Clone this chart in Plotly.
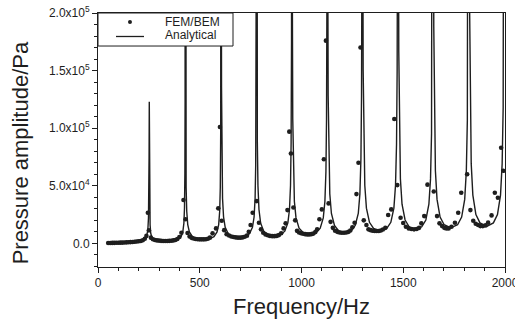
import plotly.graph_objects as go

# ---- Analytical curve (Hz, Pa) ----
AN_F = [50, 100, 150, 190, 215, 230, 240, 245, 248, 250, 251, 252,
        253, 254, 256, 259, 264, 272, 287, 307, 340, 374, 394, 409, 417, 422, 425, 427, 428, 429,
        430, 431, 433, 436, 441, 449, 464, 484, 517, 550, 570, 585, 593, 598, 601, 603, 604, 605,
        606, 607, 609, 612, 617, 625, 640, 660, 692, 724, 744, 759, 767, 772, 775, 777, 778, 779,
        780, 781, 783, 786, 791, 799, 814, 834, 866, 898, 918, 933, 941, 946, 949, 951, 952, 953,
        954, 955, 957, 960, 965, 973, 988, 1008, 1040, 1072, 1092, 1107, 1115, 1120, 1123, 1125, 1126, 1127,
        1128, 1129, 1131, 1134, 1139, 1147, 1162, 1182, 1213, 1244, 1264, 1279, 1287, 1292, 1295, 1297, 1298, 1299,
        1300, 1301, 1303, 1306, 1311, 1319, 1334, 1354, 1386, 1419, 1439, 1454, 1462, 1467, 1470, 1472, 1473, 1474,
        1475, 1476, 1478, 1481, 1486, 1494, 1509, 1529, 1560, 1591, 1611, 1626, 1634, 1639, 1642, 1644, 1645, 1646,
        1647, 1648, 1650, 1653, 1658, 1666, 1681, 1701, 1734, 1767, 1787, 1802, 1810, 1815, 1818, 1820, 1821, 1822,
        1823, 1824, 1826, 1829, 1834, 1842, 1857, 1877, 1910, 1943, 1963, 1978, 1986, 1991, 1994, 1996, 1997, 1998,
        1999, 2000]
AN_P = [300, 600, 1000, 1600, 2500, 4000, 7000, 12000, 22000, 45000, 75000, 123000,
        60000, 32000, 16000, 9000, 5500, 4000, 3000, 2500, 2200, 2600, 3700, 6200, 10300, 17500, 30600, 61000, 122000, 1e6,
        194000, 97000, 48700, 27900, 16300, 9900, 5900, 4200, 3500, 4200, 5900, 9900, 16300, 27900, 48700, 97000, 194000, 1e6,
        272000, 136000, 68100, 39000, 22900, 13900, 8300, 5900, 4900, 5900, 8300, 13900, 22900, 39000, 68100, 136000, 272000, 1e6,
        350000, 175000, 87600, 50100, 29400, 17800, 10600, 7600, 6300, 7600, 10600, 17800, 29400, 50100, 87600, 175000, 350000, 1e6,
        433000, 217000, 108000, 62100, 36400, 22100, 13200, 9400, 7800, 9400, 13200, 22100, 36400, 62100, 108000, 217000, 433000, 1e6,
        510000, 256000, 128000, 73200, 43000, 26000, 15500, 11000, 9200, 11000, 15500, 26000, 43000, 73200, 128000, 256000, 510000, 1e6,
        600000, 300000, 150000, 86000, 50400, 30600, 18300, 13000, 10800, 13000, 18300, 30600, 50400, 86000, 150000, 300000, 600000, 1e6,
        666000, 334000, 167000, 95500, 56000, 34000, 20300, 14400, 12000, 14400, 20300, 34000, 56000, 95500, 167000, 334000, 666000, 1e6,
        750000, 375000, 188000, 107000, 63000, 38200, 22800, 16200, 13500, 16200, 22800, 38200, 63000, 107000, 188000, 375000, 750000, 1e6,
        820000, 410000, 206000, 118000, 69000, 41900, 25000, 17800, 14800, 17800, 25000, 41900, 69000, 118000, 206000, 410000, 820000, 1e6,
        850000, 420000]

# ---- FEM/BEM points (Hz, Pa) ----
FEM_F = [50, 60, 70, 80, 90, 100, 110, 120, 130, 140, 150, 160, 170, 180, 190, 200, 210, 220, 230, 238,
         245, 250, 260, 270, 280, 290, 300, 310, 320, 330, 340, 350, 360, 370, 380, 390, 400, 410, 420, 430,
         440, 450, 460, 470, 480, 490, 500, 510, 520, 530, 540, 550, 563, 580, 591, 599, 608, 620, 632, 644,
         655, 666, 677, 688, 699, 710, 721, 732, 741, 750, 760, 780, 791, 801, 812, 823, 834, 845, 856, 867,
         878, 889, 900, 912, 922, 931, 940, 948, 960, 969, 978, 988, 998, 1008, 1018, 1028, 1038, 1048, 1058, 1068,
         1077, 1088, 1100, 1110, 1120, 1133, 1143, 1154, 1165, 1176, 1187, 1198, 1209, 1220, 1231, 1240, 1250, 1261, 1270, 1280,
         1290, 1306, 1319, 1329, 1340, 1350, 1360, 1370, 1380, 1390, 1400, 1412, 1426, 1441, 1456, 1471, 1487, 1500, 1513, 1527,
         1540, 1553, 1566, 1578, 1589, 1603, 1619, 1650, 1666, 1678, 1691, 1702, 1712, 1723, 1737, 1754, 1770, 1785, 1814, 1830,
         1844, 1856, 1868, 1879, 1891, 1904, 1917, 1934, 1950, 1965, 1981, 1991]
FEM_P = [300, 350, 400, 450, 500, 600, 650, 700, 800, 900, 1000, 1100, 1250, 1400, 1600, 1800, 2100, 2700, 4000, 6500,
         26600, 11300, 5000, 3600, 2900, 2600, 2400, 2200, 2100, 2100, 2100, 2200, 2300, 2600, 3000, 3800, 5500, 9200, 37600, 21000,
         9000, 6000, 4800, 4200, 3800, 3600, 3500, 3500, 3500, 3600, 4000, 5000, 8700, 13000, 30400, 101000, 19600, 11500, 8000, 6800,
         6000, 5500, 5200, 5000, 5000, 5200, 5700, 6700, 10000, 15900, 26600, 36700, 17900, 12200, 9200, 7800, 7000, 6500, 6300, 6300,
         6500, 7200, 8800, 13000, 17400, 28900, 97000, 78000, 31200, 20000, 10900, 9500, 8800, 8300, 8000, 7800, 7800, 8000, 8500, 9800,
         12200, 21000, 29500, 73000, 176000, 34700, 18700, 13500, 11000, 10000, 9500, 9200, 9200, 9400, 10000, 11200, 13900, 17900, 42800, 70000,
         170000, 20000, 15900, 12200, 11500, 11000, 10800, 10700, 10800, 11200, 12000, 13500, 24600, 29500, 108000, 50600, 22200, 17700, 14500, 13000,
         12500, 12200, 12500, 13500, 17400, 23700, 51000, 45000, 23700, 17400, 15000, 13500, 13000, 13000, 14400, 17900, 26600, 44000, 60000, 28900,
         19600, 17000, 15900, 15000, 15000, 15600, 18000, 24300, 44000, 39600, 83000, 63000]

Y_TICKS = [0, 50000, 100000, 150000, 200000]
Y_TICKTEXT = ["0.0", "5.0x10<sup>4</sup>", "1.0x10<sup>5</sup>", "1.5x10<sup>5</sup>", "2.0x10<sup>5</sup>"]
X_TICKS = [0, 500, 1000, 1500, 2000]
SERIES_NAMES = ["FEM/BEM", "Analytical"]

INK = "#1e1e1e"
FONT = "Liberation Sans, Arial, Helvetica, sans-serif"

fig = go.Figure()
fig.add_trace(go.Scatter(x=AN_F, y=AN_P, mode="lines", name=SERIES_NAMES[1],
                         line=dict(color=INK, width=1.4), showlegend=False))
fig.add_trace(go.Scatter(x=FEM_F, y=FEM_P, mode="markers", name=SERIES_NAMES[0],
                         marker=dict(symbol="circle", size=4.6, color=INK), showlegend=False))

axis_common = dict(showline=True, linecolor=INK, linewidth=1, mirror=True, automargin=False,
                   showgrid=False, zeroline=False, ticks="outside", ticklen=5,
                   tickwidth=1, tickcolor=INK, ticklabeloverflow="allow",
                   tickfont=dict(size=12, color=INK, family=FONT))

fig.update_xaxes(range=[0, 2000], tickmode="array", tickvals=X_TICKS,
                 ticktext=[str(v) for v in X_TICKS],
                 minor=dict(dtick=100, tick0=0, ticks="outside", ticklen=3, tickcolor=INK, showgrid=False),
                 title=dict(text="Frequency/Hz", font=dict(size=22, color=INK, family=FONT), standoff=9),
                 **axis_common)
fig.update_yaxes(range=[-20500, 200000], tickmode="array", tickvals=Y_TICKS, ticktext=Y_TICKTEXT,
                 minor=dict(dtick=10000, tick0=0, ticks="outside", ticklen=3, tickcolor=INK, showgrid=False),
                 **axis_common)

fig.add_annotation(text="Pressure amplitude/Pa", xref="paper", yref="paper",
                   x=-0.19, y=0.45, xanchor="center", yanchor="middle", textangle=-90,
                   showarrow=False, font=dict(size=22, color=INK, family=FONT))

# ---- legend box (paper coordinates) ----
fig.add_shape(type="rect", xref="paper", yref="paper", x0=0, x1=0.3317, y0=0.870, y1=1,
              line=dict(color=INK, width=1), fillcolor="white", layer="above")
fig.add_shape(type="circle", xref="paper", yref="paper", x0=0.0737, x1=0.0835, y0=0.9567, y1=0.9725,
              line=dict(color=INK, width=0), fillcolor=INK, layer="above")
fig.add_shape(type="line", xref="paper", yref="paper", x0=0.0442, x1=0.113, y0=0.9075, y1=0.9075,
              line=dict(color=INK, width=1.3), layer="above")
fig.add_annotation(text=SERIES_NAMES[0], xref="paper", yref="paper", x=0.1597, y=0.9646,
                   xanchor="left", yanchor="middle", showarrow=False,
                   font=dict(size=12, color=INK, family=FONT))
fig.add_annotation(text=SERIES_NAMES[1], xref="paper", yref="paper", x=0.1597, y=0.9134,
                   xanchor="left", yanchor="middle", showarrow=False,
                   font=dict(size=12, color=INK, family=FONT))

fig.update_layout(width=515, height=321, margin=dict(l=98, r=10, t=13, b=54),
                  plot_bgcolor="white", paper_bgcolor="white",
                  font=dict(family=FONT, size=12, color=INK),
                  showlegend=False)

fig.write_html("out.html", config={"displayModeBar": False},
               post_script="document.body.style.margin='0';document.body.style.padding='0';")
